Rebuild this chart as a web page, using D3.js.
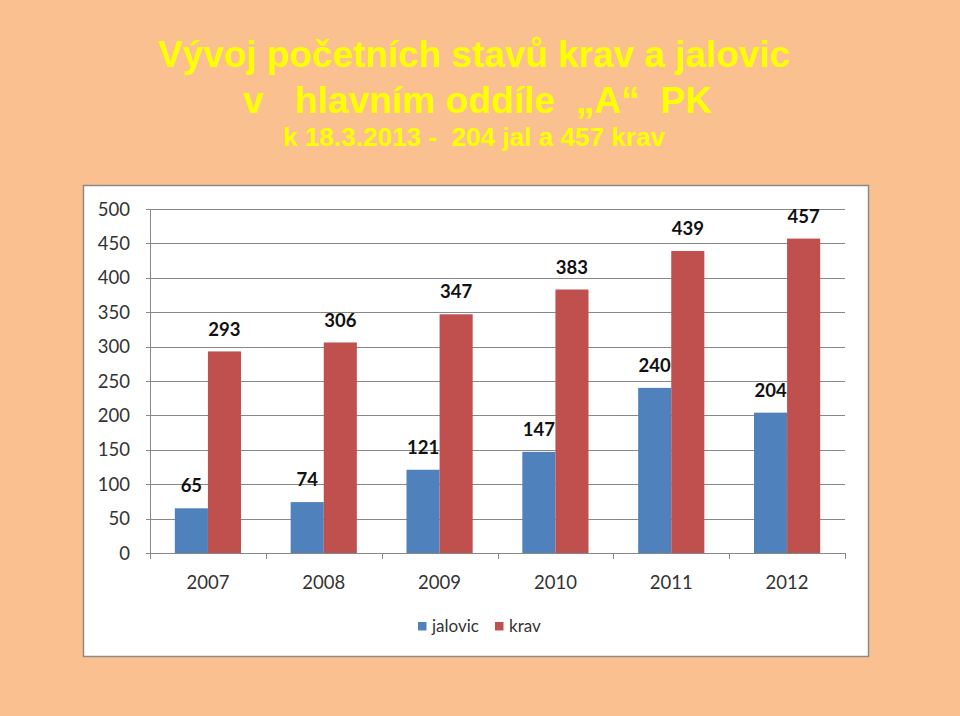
<!DOCTYPE html>
<html><head><meta charset="utf-8">
<script src="https://cdn.jsdelivr.net/npm/d3@7/dist/d3.min.js"></script>
<style>html,body{margin:0;padding:0;background:#FBC08F;}svg{display:block;}</style>
</head><body>
<script>
const categories = ["2007","2008","2009","2010","2011","2012"];
const seriesNames = ["jalovic","krav"];
const jalovic = [65,74,121,147,240,204];
const krav = [293,306,347,383,439,457];
const yTicks = [0,50,100,150,200,250,300,350,400,450,500];
const titleLines = ["Vývoj početních stavů krav a jalovic","v   hlavním oddíle  „A“  PK","k 18.3.2013 -  204 jal a 457 krav"];
const colors = ["#4F81BD","#C0504D"];

const W=960,H=716;
const svg=d3.select("body").append("svg").attr("width",W).attr("height",H);
svg.append("rect").attr("width",W).attr("height",H).attr("fill","#FBC08F");

// title
const tsizes=[37,37,26], tys=[67,113,146], txs=[158,243,283], tlens=[632,469,382];
titleLines.forEach((t,i)=>{
  svg.append("text").attr("x",txs[i]).attr("y",tys[i]).attr("text-anchor","start")
   .attr("font-family","Liberation Sans, Arial, sans-serif").attr("font-weight","bold")
   .attr("font-size",tsizes[i]).attr("fill","#FFFF00").style("white-space","pre")
   .attr("textLength",tlens[i]).attr("lengthAdjust","spacingAndGlyphs").text(t);
});

// chart box
svg.append("rect").attr("x",83.5).attr("y",185.5).attr("width",785).attr("height",471)
  .attr("fill","#fff").attr("stroke","#8a8a8a").attr("stroke-width",1.5);

const x0=d3.scaleBand().domain(categories).range([150,845]).paddingInner(0).paddingOuter(0);
const y=d3.scaleLinear().domain([0,500]).range([553,209]);
const bw=x0.bandwidth();
const barW=bw/(2+1.5);
const x1=d3.scaleBand().domain(seriesNames).range([barW*0.75,barW*0.75+2*barW]);

const font="Lato, 'Open Sans', sans-serif";
// gridlines
const g=svg.append("g");
g.selectAll("line.grid").data(yTicks).enter().append("line")
  .attr("x1",146).attr("x2",845).attr("y1",d=>Math.round(y(d))+0.5).attr("y2",d=>Math.round(y(d))+0.5)
  .attr("stroke","#888").attr("stroke-width",1);
// y axis line
g.append("line").attr("x1",150.5).attr("x2",150.5).attr("y1",209).attr("y2",553).attr("stroke","#888");
// y labels
g.selectAll("text.yl").data(yTicks).enter().append("text")
  .attr("x",130).attr("y",d=>y(d)).attr("dy","0.36em").attr("text-anchor","end")
  .attr("font-family",font).attr("font-size",18.5).attr("fill","#333").text(d=>d);
// x ticks
const bounds=categories.map(c=>x0(c)).concat([845]);
g.selectAll("line.xt").data(bounds).enter().append("line")
  .attr("x1",d=>Math.round(d)+0.5).attr("x2",d=>Math.round(d)+0.5).attr("y1",553).attr("y2",559).attr("stroke","#888");
g.selectAll("text.xl").data(categories).enter().append("text")
  .attr("x",d=>x0(d)+bw/2).attr("y",582).attr("dy","0.36em").attr("text-anchor","middle")
  .attr("font-family",font).attr("font-size",18.5).attr("fill","#333").text(d=>d);

// bars
const data=categories.map((c,i)=>({c, vals:[{s:"jalovic",v:jalovic[i]},{s:"krav",v:krav[i]}]}));
const grp=svg.selectAll("g.cat").data(data).enter().append("g").attr("transform",d=>`translate(${x0(d.c)},0)`);
grp.selectAll("rect").data(d=>d.vals).enter().append("rect")
  .attr("x",d=>x1(d.s)).attr("width",x1.bandwidth()).attr("y",d=>y(d.v)).attr("height",d=>553-y(d.v))
  .attr("fill",(d,i)=>colors[i]);
grp.selectAll("text").data(d=>d.vals).enter().append("text")
  .attr("x",d=>x1(d.s)+x1.bandwidth()/2).attr("y",d=>y(d.v)-22.5).attr("dy","0.36em").attr("text-anchor","middle")
  .attr("font-family",font).attr("font-weight","bold").attr("font-size",18.5).attr("fill","#111").text(d=>d.v);

// legend
const leg=[{n:"jalovic",x:418},{n:"krav",x:495}];
leg.forEach((l,i)=>{
  svg.append("rect").attr("x",l.x).attr("y",622).attr("width",8.5).attr("height",8.5).attr("fill",colors[i]);
  svg.append("text").attr("x",l.x+14).attr("y",626).attr("dy","0.36em").attr("font-family",font)
    .attr("font-size",17).attr("fill","#333").text(l.n);
});
</script>
</body></html>
